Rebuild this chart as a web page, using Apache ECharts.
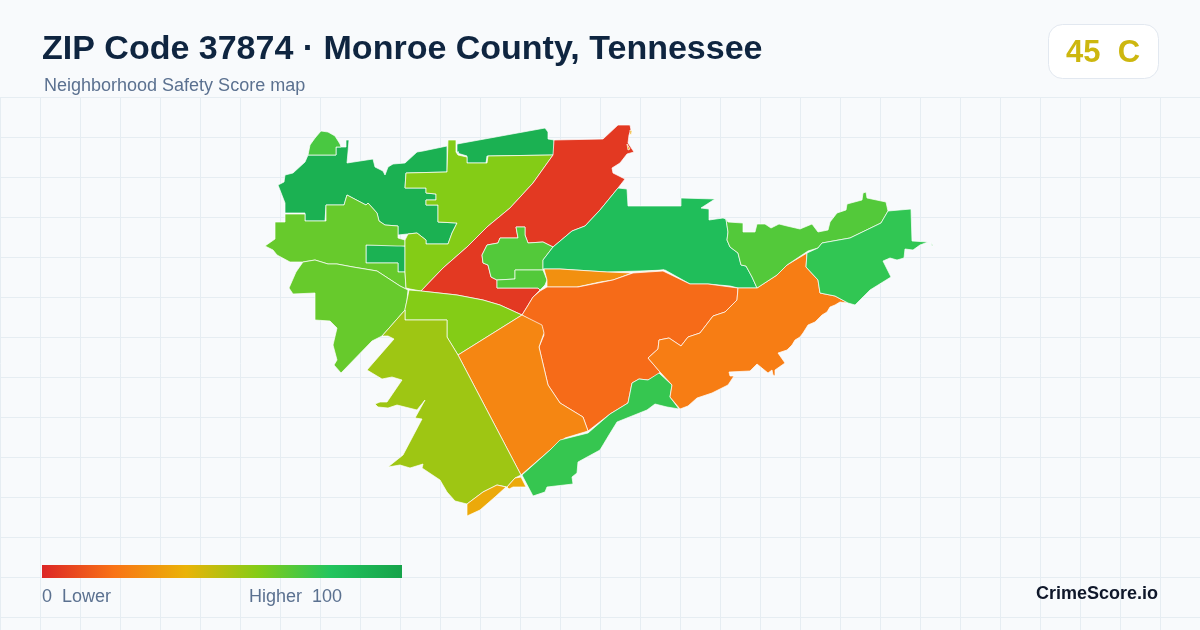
<!DOCTYPE html>
<html>
<head>
<meta charset="utf-8">
<title>ZIP Code 37874</title>
<script src="https://cdn.jsdelivr.net/npm/echarts@6/dist/echarts.min.js"></script>
<style>
html, body { margin: 0; padding: 0; background: #f8fafc; }
#chart { width: 1200px; height: 630px; }
</style>
</head>
<body>
<div id="chart"></div>
<script>
const titleText = 'ZIP Code 37874 · Monroe County, Tennessee';
const subtitleText = 'Neighborhood Safety Score map';
const gradeText = '45  C';
const brandText = 'CrimeScore.io';
const scaleMin = 0;
const scaleMax = 100;
const scaleLabels = ['0  Lower', 'Higher  100'];
const scaleColors = ['#dc2626', '#f97316', '#eab308', '#84cc16', '#22c55e', '#16a34a'];

const regionNames = ['nw-hill', 'north-ridge', 'enclave', 'west', 'southwest-arm', 'north-center', 'red-corridor',
    'town-a', 'town-b', 'east-central', 'sliver-a', 'sliver-b', 'central', 'south-center', 'south-mid', 'olive',
    'south-tip', 'southeast-strip', 'east-orange', 'northeast', 'far-east', 'cap'];
const regionScores = [92, 92, 91, 66, 66, 60, 5, 70, 70, 84, 29, 29, 18, 60, 26, 55, 37, 76, 23, 70, 77, 72];

// region outlines
const regionOutlines = [
    [[[308,155],[336,155],[336,147],[346,147],[346,140],[349,140],[348,152],[347,163],[373,159],[375,167],[383,171],[385,175],[388,167],[393,164],[405,163],[417,152],[423,151],[447,146],[447,172],[406,173],[405,188],[426,188],[426,193],[436,194],[436,200],[426,200],[426,205],[438,205],[438,222],[457,223],[452,233],[448,244],[426,244],[426,240],[417,233],[398,235],[398,226],[385,225],[379,221],[377,213],[368,203],[366,205],[347,195],[344,205],[326,205],[325,221],[305,221],[305,213],[285,213],[285,203],[278,185],[284,182],[285,175],[293,173],[305,162]]],
    [[[457,144],[545,128],[548,132],[548,139],[554,140],[554,155],[487,156],[486,163],[467,163],[467,156],[457,153],[459,152],[457,152]]],
    [[[366,245],[397,245],[397,246],[405,246],[405,272],[398,272],[398,263],[366,263]]],
    [[[265,246],[275,239],[275,222],[285,222],[285,214],[305,214],[305,221],[326,221],[326,205],[344,205],[347,195],[366,205],[368,203],[377,213],[379,221],[385,225],[398,226],[398,238],[405,240],[405,246],[397,246],[397,245],[366,245],[366,263],[398,263],[398,272],[405,272],[406,288],[408,290],[400,286],[377,271],[353,267],[337,264],[328,264],[315,260],[303,262],[290,262],[277,255],[273,250]]],
    [[[408,290],[400,286],[377,271],[353,267],[337,264],[328,264],[315,260],[303,262],[296,272],[289,288],[293,294],[315,293],[315,320],[330,321],[337,328],[333,345],[337,360],[334,365],[341,373],[372,341],[382,336],[405,310],[407,300]]],
    [[[448,140],[456,140],[456,152],[458,155],[467,157],[467,163],[487,163],[488,156],[553,155],[533,183],[510,208],[487,227],[467,247],[443,268],[421,291],[410,289],[406,288],[405,272],[405,240],[406,238],[408,234],[417,233],[426,240],[426,244],[448,244],[452,233],[457,223],[438,222],[438,205],[426,205],[426,200],[436,200],[436,194],[426,193],[426,188],[405,188],[406,173],[447,172]]],
    [[[554,140],[603,139],[618,125],[630,125],[631,130],[629,135],[628,143],[634,152],[627,154],[620,163],[612,168],[613,173],[625,179],[618,188],[600,210],[585,226],[572,231],[553,247],[543,242],[528,243],[525,235],[525,227],[516,227],[518,238],[500,238],[498,243],[487,245],[482,255],[483,263],[488,265],[491,277],[497,280],[497,288],[538,288],[540,290],[533,297],[522,315],[500,305],[483,300],[457,295],[421,291],[443,268],[467,247],[487,227],[510,208],[533,183],[553,155]]],
    [[[516,227],[525,227],[525,235],[528,243],[543,242],[553,247],[543,260],[543,270],[515,270],[515,279],[497,280],[491,277],[488,265],[483,263],[482,255],[487,245],[498,243],[500,238],[518,238]]],
    [[[515,270],[543,270],[547,280],[545,285],[540,290],[538,288],[497,288],[497,280],[515,279]]],
    [[[553,247],[572,231],[585,226],[600,210],[618,188],[627,189],[628,206],[681,206],[681,198],[715,199],[701,208],[709,209],[709,220],[723,218],[726,219],[728,232],[727,240],[730,247],[738,253],[741,265],[746,266],[752,277],[757,288],[738,288],[730,286],[708,284],[690,284],[665,270],[640,271],[607,272],[560,269],[543,269],[543,260]]],
    [[[544,269],[560,269],[607,272],[632,273],[613,280],[600,282],[577,287],[547,287],[547,280]]],
    [[[640,272],[664,270],[665,271],[640,273]]],
    [[[540,291],[547,287],[578,287],[613,280],[633,273],[663,271],[690,284],[708,284],[738,288],[737,300],[725,312],[713,316],[700,333],[688,337],[681,346],[669,338],[659,340],[658,349],[648,358],[660,372],[658,375],[648,380],[639,379],[632,383],[628,403],[610,414],[588,431],[583,417],[560,403],[548,385],[539,347],[544,335],[542,327],[522,315],[527,307],[533,297]]],
    [[[409,290],[421,291],[457,295],[483,300],[500,305],[522,315],[458,355],[447,337],[447,320],[405,320],[405,309],[407,300]]],
    [[[522,315],[542,325],[544,333],[539,347],[548,385],[560,403],[583,417],[588,431],[565,438],[550,450],[521,475],[458,355]]],
    [[[405,310],[405,320],[447,320],[447,337],[458,355],[521,475],[515,478],[507,487],[497,485],[483,492],[467,504],[455,501],[447,492],[440,480],[422,468],[423,464],[410,468],[400,465],[388,467],[403,455],[422,419],[415,418],[425,400],[417,410],[397,405],[388,408],[378,407],[375,404],[380,402],[387,402],[402,380],[392,377],[382,379],[367,370],[394,339],[388,336],[382,336]]],
    [[[467,504],[483,492],[497,485],[506,487],[495,497],[480,510],[467,516]],[[507,487],[515,478],[521,477],[526,487],[513,487],[509,489]],[[630,130],[632,131],[631,135],[630,134]],[[627,144],[630,149],[628,150]]],
    [[[522,475],[550,450],[560,440],[588,433],[610,414],[628,403],[632,383],[639,379],[648,380],[659,373],[672,385],[670,397],[679,409],[667,407],[655,404],[647,410],[617,422],[609,435],[600,450],[578,462],[577,473],[572,477],[573,484],[547,487],[545,492],[533,496],[523,477]]],
    [[[738,288],[757,288],[777,275],[787,265],[807,253],[806,267],[818,280],[820,293],[835,296],[848,303],[840,302],[835,305],[830,307],[827,312],[822,315],[815,322],[808,325],[803,333],[800,337],[795,340],[792,345],[787,350],[778,353],[785,363],[775,370],[775,376],[773,375],[772,370],[768,373],[757,364],[750,371],[729,372],[730,376],[734,376],[728,385],[712,393],[697,398],[688,406],[680,409],[670,397],[672,385],[660,372],[648,358],[658,349],[659,340],[669,338],[681,346],[688,337],[700,333],[713,316],[725,312],[737,300]]],
    [[[726,219],[728,222],[743,223],[743,232],[755,232],[757,224],[765,224],[771,228],[779,224],[787,226],[800,229],[812,224],[818,232],[828,230],[830,222],[837,213],[846,210],[847,204],[862,200],[863,193],[866,192],[867,198],[886,202],[888,211],[881,223],[850,238],[822,243],[818,248],[808,251],[787,265],[777,275],[757,288],[752,277],[746,266],[741,265],[738,253],[730,247],[727,240],[728,232]]],
    [[[822,243],[850,238],[881,223],[888,211],[911,209],[912,241],[928,242],[920,245],[913,250],[905,249],[904,258],[897,260],[890,258],[883,261],[891,277],[870,290],[855,305],[848,303],[835,296],[820,293],[818,280],[806,267],[807,253],[818,248]],[[931,242],[933,246],[932,246]]],
    [[[308,155],[310,145],[315,138],[321,131],[328,132],[335,136],[340,144],[341,147],[336,147],[336,155]]]
];

const features = regionNames.map((name, i) => ({
    type: 'Feature',
    properties: { name: name },
    geometry: { type: 'MultiPolygon', coordinates: regionOutlines[i].map(ring => [ring]) }
}));
echarts.registerMap('zip37874', { type: 'FeatureCollection', features: features });

const chart = echarts.init(document.getElementById('chart'));

const option = {
    animation: false,
    backgroundColor: '#f8fafc',
    title: [
        { text: titleText, left: 42, top: 33, padding: 0,
          textStyle: { fontFamily: 'Liberation Sans', fontSize: 34, fontWeight: 'bold', color: '#0f2540' } },
        { text: subtitleText, left: 44, top: 77, padding: 0,
          textStyle: { fontFamily: 'Liberation Sans', fontSize: 18, fontWeight: 'normal', color: '#5b7190' } }
    ],
    grid: { left: 0, right: 0, top: 97, bottom: 0 },
    xAxis: {
        type: 'value', min: 0, max: 1200, interval: 40,
        axisLine: { show: false }, axisTick: { show: false }, axisLabel: { show: false },
        splitLine: { show: true, lineStyle: { color: '#e6edf2', width: 1 } }
    },
    yAxis: {
        type: 'value', inverse: true, min: 0, max: 533, interval: 40,
        axisLine: { show: false }, axisTick: { show: false }, axisLabel: { show: false },
        splitLine: { show: true, lineStyle: { color: '#e6edf2', width: 1 } }
    },
    visualMap: {
        type: 'continuous', seriesIndex: 0, min: scaleMin, max: scaleMax, show: false,
        inRange: { color: scaleColors }
    },
    series: [{
        type: 'map',
        map: 'zip37874',
        projection: { project: p => [p[0], p[1]], unproject: p => [p[0], p[1]] },
        left: 265, top: 125, width: 668, height: 391,
        roam: false, silent: true,
        label: { show: false },
        itemStyle: { borderColor: '#ffffff', borderWidth: 0.7 },
        emphasis: { disabled: true },
        select: { disabled: true },
        data: regionNames.map((name, i) => ({ name: name, value: regionScores[i] }))
    }],
    graphic: [
        { type: 'rect', z: 100, shape: { x: 42, y: 565, width: 360, height: 13 },
          style: { fill: new echarts.graphic.LinearGradient(0, 0, 1, 0,
              scaleColors.map((color, i) => ({ offset: i / (scaleColors.length - 1), color: color }))) } },
        { type: 'rect', z: 100, shape: { x: 1048.5, y: 24.5, width: 110, height: 54, r: 14 },
          style: { fill: '#ffffff', stroke: '#e2e8f0', lineWidth: 1 } },
        { type: 'text', z: 101, x: 1103, y: 53,
          style: { text: gradeText, fill: '#cdb70f', align: 'center', verticalAlign: 'middle',
                   font: 'bold 31px "Liberation Sans"' } },
        { type: 'text', z: 101, x: 42, y: 597,
          style: { text: scaleLabels[0], fill: '#5b7190', align: 'left', verticalAlign: 'middle',
                   font: '18px "Liberation Sans"' } },
        { type: 'text', z: 101, x: 249, y: 597,
          style: { text: scaleLabels[1], fill: '#5b7190', align: 'left', verticalAlign: 'middle',
                   font: '18px "Liberation Sans"' } },
        { type: 'text', z: 101, x: 1158, y: 594,
          style: { text: brandText, fill: '#0f172a', align: 'right', verticalAlign: 'middle',
                   font: 'bold 18px "Liberation Sans"' } }
    ]
};

chart.setOption(option);
</script>
</body>
</html>
